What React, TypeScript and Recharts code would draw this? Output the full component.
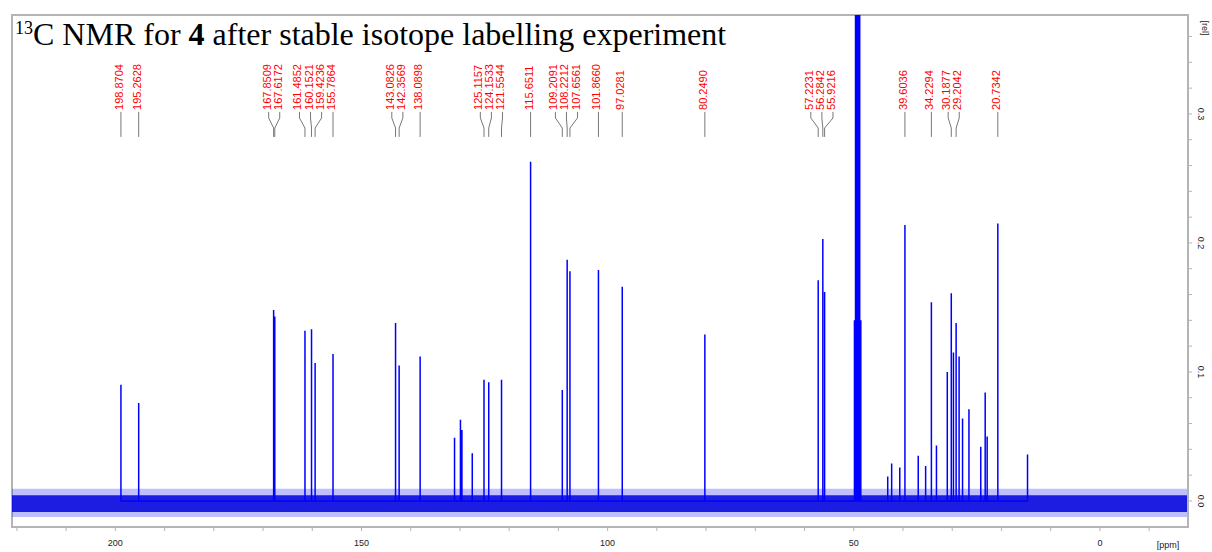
import React from 'react';
import {
  ComposedChart,
  Line,
  Scatter,
  XAxis,
  YAxis,
  ReferenceArea,
  ReferenceLine,
} from 'recharts';

// ============================================================================
// Data
// ============================================================================

// peak positions (ppm) and heights (rel)
const PEAK_PPM = [
  198.8704, 195.2628, 167.8509, 167.6172, 161.4852, 160.1521, 159.4236, 155.7864,
  143.0826, 142.3569, 138.0898, 131.1, 129.9, 129.6, 127.5, 125.1157, 124.1533,
  121.5544, 115.6511, 109.2091, 108.2212, 107.6561, 101.866, 97.0281, 80.249,
  57.2231, 56.2842, 55.9216, 49.86, 49.64, 49.43, 49.21, 49.0, 48.79, 48.57,
  43.1, 42.3, 40.65, 39.6036, 36.9, 35.4, 34.2294, 33.2, 31.0, 30.1877, 29.75,
  29.2042, 28.6, 27.9, 26.6, 24.2, 23.3, 22.9, 20.7342, 14.7,
];
const PEAK_HEIGHT = [
  0.09, 0.076, 0.148, 0.143, 0.132, 0.133, 0.107, 0.114,
  0.138, 0.105, 0.112, 0.049, 0.063, 0.055, 0.037, 0.094, 0.092,
  0.094, 0.263, 0.086, 0.187, 0.178, 0.179, 0.166, 0.129,
  0.171, 0.203, 0.162, 0.14, 0.42, 0.84, 0.98, 0.84, 0.42, 0.14,
  0.019, 0.029, 0.026, 0.214, 0.035, 0.027, 0.154, 0.043, 0.1, 0.161, 0.115,
  0.138, 0.112, 0.064, 0.071, 0.042, 0.084, 0.05, 0.215, 0.036,
];

// picked peaks shown in red at the top
const LABEL_PPM = [
  198.8704, 195.2628, 167.8509, 167.6172, 161.4852, 160.1521, 159.4236, 155.7864,
  143.0826, 142.3569, 138.0898, 125.1157, 124.1533, 121.5544, 115.6511, 109.2091,
  108.2212, 107.6561, 101.866, 97.0281, 80.249, 57.2231, 56.2842, 55.9216,
  39.6036, 34.2294, 30.1877, 29.2042, 20.7342,
];

const X_TICKS = [-10, 0, 10, 20, 30, 40, 50, 60, 70, 80, 90, 100, 110, 120, 130, 140, 150, 160, 170, 180, 190, 200, 210, 220];
const Y_TICKS = [0, 0.02, 0.04, 0.06, 0.08, 0.1, 0.12, 0.14, 0.16, 0.18, 0.2, 0.22, 0.24, 0.26, 0.28, 0.3, 0.32, 0.34, 0.36];

const X_DOMAIN: [number, number] = [-17.9, 221];
const Y_DOMAIN: [number, number] = [-0.0202, 0.3767];

// ============================================================================
// Helpers
// ============================================================================

const BLUE = '#0000ff';
const FRAME = '#b4b4b4';
const AXIS_FONT = '"Liberation Sans", Arial, sans-serif';

// label rows (rel units)
const LABEL_TEXT_Y = 0.3031;
const CONN_Y = [0.3016, 0.2969, 0.2891, 0.2822];

// spread crowded labels apart, keeping each cluster centred on its peaks
function spreadLabels(values: number[], minSep: number): number[] {
  let groups = values.map((v) => ({ members: [v], center: v }));
  let merged = true;
  while (merged) {
    merged = false;
    for (let i = 0; i < groups.length - 1; i++) {
      const a = groups[i];
      const b = groups[i + 1];
      const aLow = a.center - ((a.members.length - 1) * minSep) / 2;
      const bHigh = b.center + ((b.members.length - 1) * minSep) / 2;
      if (aLow - bHigh < minSep) {
        const members = [...a.members, ...b.members];
        const center = members.reduce((s, v) => s + v, 0) / members.length;
        groups.splice(i, 2, { members, center });
        merged = true;
        break;
      }
    }
  }
  const out: number[] = [];
  groups.forEach((g) =>
    g.members.forEach((_, k) => out.push(g.center + ((g.members.length - 1) / 2 - k) * minSep)),
  );
  return out;
}

const spectrum = PEAK_PPM.flatMap((p, i) => [
  { ppm: p, v: 0 },
  { ppm: p, v: PEAK_HEIGHT[i] },
  { ppm: p, v: 0 },
]);

const labelPos = spreadLabels(LABEL_PPM, 2.25);
const labelPoints = LABEL_PPM.map((p, i) => ({ ppm: labelPos[i], v: LABEL_TEXT_Y, text: p.toFixed(4) }));

const renderPeakLabel = (props: any) => {
  const { cx, cy, payload } = props;
  return (
    <text
      x={cx - 2}
      y={cy}
      transform={`rotate(-90 ${cx - 2} ${cy})`}
      textAnchor="start"
      dominantBaseline="central"
      fontFamily={AXIS_FONT}
      fontSize={11}
      fill="#ff0000"
    >
      {payload.text}
    </text>
  );
};

const renderXTick = (props: any) => {
  const { x, y, payload } = props;
  if (payload.value % 50 !== 0) return <g />;
  return (
    <text x={x} y={y} dy={13} textAnchor="middle" fontFamily={AXIS_FONT} fontSize={9} fill="#222">
      {payload.value}
    </text>
  );
};

const renderYTick = (props: any) => {
  const { x, y, payload } = props;
  const v = payload.value as number;
  if (Math.abs(v * 10 - Math.round(v * 10)) > 1e-6) return <g />;
  return (
    <text
      x={x + 7}
      y={y}
      transform={`rotate(90 ${x + 7} ${y})`}
      textAnchor="middle"
      dominantBaseline="central"
      fontFamily={AXIS_FONT}
      fontSize={9}
      fill="#222"
    >
      {v.toFixed(1)}
    </text>
  );
};

// ============================================================================
// Component
// ============================================================================

export default function App() {
  return (
    <div style={{ position: 'absolute', left: 0, top: 0, width: 1212, height: 552, background: '#fff' }}>
      <ComposedChart width={1212} height={552} margin={{ top: 15, right: 0, bottom: 0, left: 12 }}>
        <XAxis
          type="number"
          dataKey="ppm"
          domain={X_DOMAIN}
          reversed
          allowDataOverflow
          ticks={X_TICKS}
          interval={0}
          height={25}
          tickSize={4}
          tick={renderXTick}
          tickLine={{ stroke: FRAME }}
          axisLine={{ stroke: FRAME, strokeWidth: 2 }}
          label={{
            content: (p: any) => (
              <text
                x={p.viewBox.x + p.viewBox.width - 20}
                y={p.viewBox.y + 21}
                textAnchor="middle"
                fontFamily={AXIS_FONT}
                fontSize={9}
                fill="#222"
              >
                [ppm]
              </text>
            ),
          }}
        />
        <YAxis
          type="number"
          dataKey="v"
          orientation="right"
          domain={Y_DOMAIN}
          allowDataOverflow
          ticks={Y_TICKS}
          interval={0}
          width={24}
          tickSize={4}
          tick={renderYTick}
          tickLine={{ stroke: FRAME }}
          axisLine={{ stroke: FRAME, strokeWidth: 2 }}
          label={{
            content: (p: any) => (
              <text
                x={p.viewBox.x + 17}
                y={p.viewBox.y + 13}
                transform={`rotate(90 ${p.viewBox.x + 17} ${p.viewBox.y + 13})`}
                textAnchor="middle"
                dominantBaseline="central"
                fontFamily={AXIS_FONT}
                fontSize={9}
                fill="#222"
              >
                [rel]
              </text>
            ),
          }}
        />
        {/* plot frame */}
        <ReferenceArea
          x1={X_DOMAIN[0]}
          x2={X_DOMAIN[1]}
          y1={Y_DOMAIN[0]}
          y2={Y_DOMAIN[1]}
          fill="none"
          stroke={FRAME}
          strokeWidth={2}
        />
        {/* baseline noise band */}
        <ReferenceArea x1={X_DOMAIN[0]} x2={X_DOMAIN[1]} y1={-0.0125} y2={0.0095} fill={BLUE} fillOpacity={0.25} stroke="none" />
        <ReferenceArea x1={X_DOMAIN[0]} x2={X_DOMAIN[1]} y1={-0.0085} y2={0.0045} fill="#0000dd" fillOpacity={0.85} stroke="none" />

        {/* peak label connectors */}
        {LABEL_PPM.map((p, i) => (
          <React.Fragment key={`c${i}`}>
            <ReferenceLine
              segment={[{ x: labelPos[i], y: CONN_Y[0] }, { x: labelPos[i], y: CONN_Y[1] }]}
              stroke="#777"
              strokeWidth={1}
            />
            <ReferenceLine
              segment={[{ x: labelPos[i], y: CONN_Y[1] }, { x: p, y: CONN_Y[2] }]}
              stroke="#777"
              strokeWidth={1}
            />
            <ReferenceLine
              segment={[{ x: p, y: CONN_Y[2] }, { x: p, y: CONN_Y[3] }]}
              stroke="#777"
              strokeWidth={1}
            />
          </React.Fragment>
        ))}

        <Line
          data={spectrum}
          dataKey="v"
          type="linear"
          stroke={BLUE}
          strokeWidth={1.5}
          dot={false}
          activeDot={false}
          isAnimationActive={false}
        />
        <Scatter data={labelPoints} dataKey="v" shape={renderPeakLabel} isAnimationActive={false} />
      </ComposedChart>
      <div
        style={{
          position: 'absolute',
          left: 15,
          top: 18,
          fontFamily: '"Liberation Serif", "Times New Roman", serif',
          fontSize: 32,
          lineHeight: '32px',
          color: '#000',
          whiteSpace: 'nowrap',
        }}
      >
        <span style={{ fontSize: 18, position: 'relative', top: -11 }}>13</span>C NMR for <b>4</b> after stable
        isotope labelling experiment
      </div>
    </div>
  );
}
